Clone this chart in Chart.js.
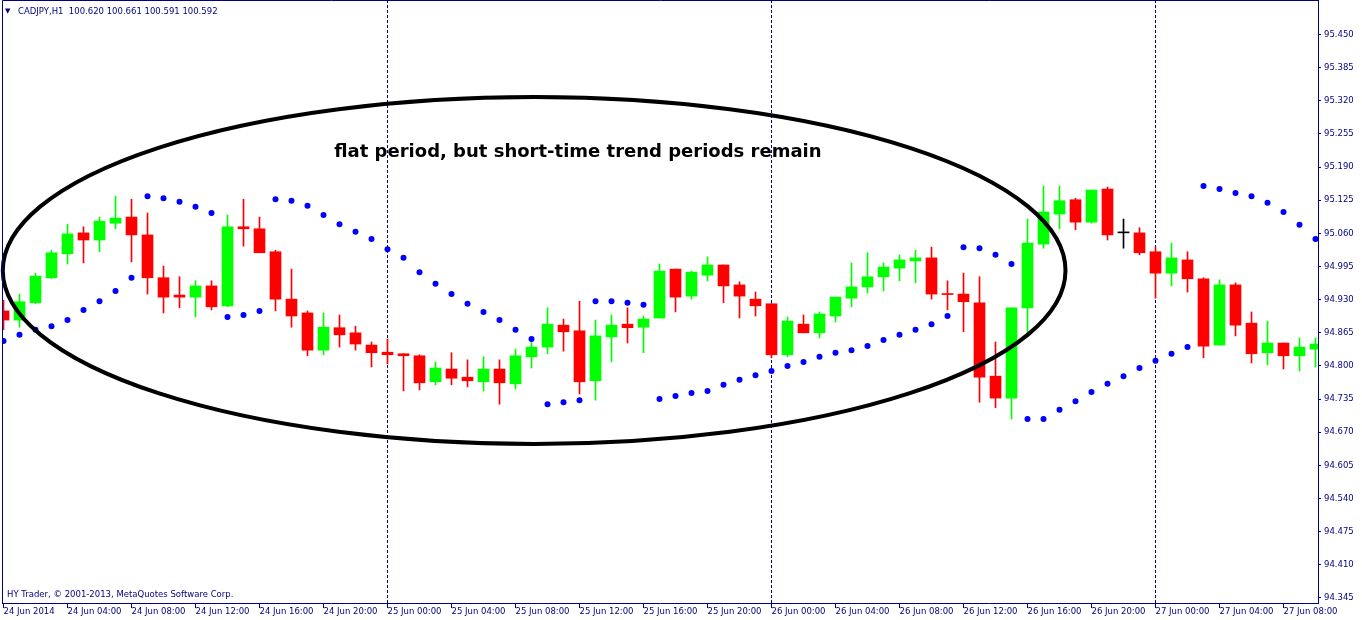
<!DOCTYPE html>
<html>
<head>
<meta charset="utf-8">
<title>CADJPY,H1</title>
<script src="https://cdn.jsdelivr.net/npm/chart.js@4.4.1/dist/chart.umd.min.js"></script>
<style>
  html, body { margin: 0; padding: 0; background: #fff; overflow: hidden; }
  canvas { display: block; }
</style>
</head>
<body>
<canvas id="chart" width="1362" height="620"></canvas>
<script>
// time axis: one label every 4 H1 bars, day separators every 24 bars
const timeLabels = ['24 Jun 2014', '24 Jun 04:00', '24 Jun 08:00', '24 Jun 12:00', '24 Jun 16:00', '24 Jun 20:00',
  '25 Jun 00:00', '25 Jun 04:00', '25 Jun 08:00', '25 Jun 12:00', '25 Jun 16:00', '25 Jun 20:00',
  '26 Jun 00:00', '26 Jun 04:00', '26 Jun 08:00', '26 Jun 12:00', '26 Jun 16:00', '26 Jun 20:00',
  '27 Jun 00:00', '27 Jun 04:00', '27 Jun 08:00'];
const labelStep = 4;
const daySeparators = [24, 48, 72];
const priceTicks = [94.345, 94.410, 94.475, 94.540, 94.605, 94.670, 94.735, 94.800, 94.865,
  94.930, 94.995, 95.060, 95.125, 95.190, 95.255, 95.320, 95.385, 95.450];

// OHLC, bar 0 = 24 Jun 00:00
const opens = [94.908, 94.890, 94.924, 94.973, 95.020, 95.061, 95.047, 95.080, 95.092, 95.057,
  94.973, 94.939, 94.935, 94.957, 94.918, 95.073, 95.069, 95.024, 94.931, 94.904,
  94.831, 94.875, 94.865, 94.841, 94.827, 94.824, 94.820, 94.769, 94.794, 94.778,
  94.769, 94.794, 94.765, 94.818, 94.837, 94.880, 94.869, 94.771, 94.857, 94.882,
  94.876, 94.894, 94.990, 94.937, 94.978, 94.998, 94.959, 94.931, 94.922, 94.822,
  94.882, 94.865, 94.898, 94.933, 94.955, 94.975, 94.992, 95.006, 95.012, 94.942,
  94.941, 94.924, 94.780, 94.737, 94.914, 95.039, 95.098, 95.126, 95.082, 95.147,
  95.061, 95.061, 95.024, 94.982, 95.008, 94.971, 94.841, 94.959, 94.884, 94.826,
  94.845, 94.820, 94.833];
const highs = [94.929, 94.941, 94.982, 95.027, 95.078, 95.073, 95.092, 95.133, 95.127, 95.100,
  94.996, 94.975, 94.967, 94.967, 95.096, 95.127, 95.092, 95.027, 94.990, 94.908,
  94.904, 94.900, 94.878, 94.847, 94.853, 94.824, 94.822, 94.808, 94.826, 94.812,
  94.818, 94.812, 94.833, 94.847, 94.914, 94.892, 94.927, 94.890, 94.900, 94.914,
  94.898, 95.000, 94.990, 94.986, 95.014, 94.998, 94.965, 94.945, 94.922, 94.896,
  94.900, 94.906, 94.935, 95.002, 95.022, 95.002, 95.018, 95.027, 95.033, 94.967,
  94.982, 94.975, 94.847, 94.914, 95.088, 95.153, 95.153, 95.129, 95.145, 95.151,
  95.088, 95.071, 95.033, 95.041, 95.024, 94.973, 94.969, 94.963, 94.906, 94.888,
  94.845, 94.855, 94.855];
const lows = [94.871, 94.876, 94.922, 94.971, 95.000, 95.002, 95.024, 95.069, 95.004, 94.941,
  94.904, 94.914, 94.896, 94.910, 94.916, 95.035, 95.022, 94.908, 94.876, 94.820,
  94.822, 94.837, 94.831, 94.798, 94.804, 94.751, 94.753, 94.763, 94.763, 94.759,
  94.751, 94.725, 94.755, 94.796, 94.824, 94.829, 94.745, 94.733, 94.808, 94.845,
  94.826, 94.894, 94.906, 94.931, 94.967, 94.924, 94.894, 94.898, 94.816, 94.818,
  94.865, 94.855, 94.886, 94.916, 94.943, 94.947, 94.967, 94.963, 94.931, 94.910,
  94.867, 94.729, 94.718, 94.696, 94.865, 95.031, 95.069, 95.067, 95.080, 95.047,
  95.031, 95.018, 94.933, 94.957, 94.945, 94.816, 94.841, 94.859, 94.806, 94.802,
  94.794, 94.790, 94.798];
const closes = [94.890, 94.926, 94.976, 95.022, 95.059, 95.047, 95.084, 95.090, 95.057, 94.973,
  94.935, 94.935, 94.957, 94.916, 95.073, 95.069, 95.022, 94.931, 94.898, 94.831,
  94.876, 94.861, 94.843, 94.826, 94.822, 94.820, 94.767, 94.796, 94.776, 94.771,
  94.794, 94.767, 94.820, 94.837, 94.882, 94.867, 94.769, 94.859, 94.880, 94.875,
  94.892, 94.986, 94.935, 94.984, 94.998, 94.957, 94.937, 94.918, 94.822, 94.888,
  94.865, 94.902, 94.935, 94.955, 94.975, 94.994, 95.008, 95.012, 94.941, 94.940,
  94.926, 94.778, 94.737, 94.914, 95.041, 95.102, 95.124, 95.082, 95.145, 95.057,
  95.061, 95.022, 94.982, 95.012, 94.971, 94.839, 94.959, 94.880, 94.824, 94.845,
  94.820, 94.837, 94.843];

// Parabolic SAR dots
const sar = [94.849, 94.861, 94.871, 94.878, 94.890, 94.910, 94.927, 94.947, 94.973, 95.133,
  95.129, 95.122, 95.112, 95.100, 94.896, 94.900, 94.908, 95.127, 95.124, 95.114,
  95.096, 95.078, 95.063, 95.049, 95.029, 95.012, 94.984, 94.961, 94.941, 94.922,
  94.906, 94.890, 94.871, 94.853, 94.725, 94.729, 94.733, 94.927, 94.927, 94.924,
  94.920, 94.735, 94.741, 94.747, 94.751, 94.763, 94.773, 94.782, 94.790, 94.800,
  94.808, 94.818, 94.826, 94.831, 94.839, 94.851, 94.861, 94.871, 94.882, 94.898,
  95.033, 95.031, 95.018, 95.000, 94.696, 94.696, 94.714, 94.731, 94.749, 94.765,
  94.780, 94.796, 94.810, 94.824, 94.837, 95.153, 95.147, 95.139, 95.133, 95.120,
  95.102, 95.077, 95.049];

// hand drawn annotation, in bar index / price units
const noteText = 'flat period, but short-time trend periods remain';
const notePos = { x: 35.9, y: 95.2196 };
const ellipseBox = { x0: -0.044, x1: 66.375, y0: 94.647, y1: 95.3275 };

const NAVY = '#000080';
const BULL = '#00ff00';
const BEAR = '#ff0000';
const DOJI = '#000000';
const SAR_BLUE = '#0000ff';
const FONT = '"DejaVu Sans", sans-serif';

function candleColor(i) {
  if (closes[i] > opens[i]) return BULL;
  if (closes[i] < opens[i]) return BEAR;
  return DOJI;
}

Chart.defaults.font.family = FONT;
Chart.defaults.font.size = 8.5;

const overlay = {
  id: 'overlay',
  afterDatasetsDraw(chart) {
    const { ctx, scales: { x, y } } = chart;
    const left = x.getPixelForValue(ellipseBox.x0), right = x.getPixelForValue(ellipseBox.x1);
    const top = y.getPixelForValue(ellipseBox.y1), bottom = y.getPixelForValue(ellipseBox.y0);
    ctx.save();
    ctx.beginPath();
    ctx.ellipse((left + right) / 2, (top + bottom) / 2, (right - left) / 2, (bottom - top) / 2, 0, 0, Math.PI * 2);
    ctx.lineWidth = 4;
    ctx.strokeStyle = '#000';
    ctx.stroke();

    ctx.font = 'bold 18px ' + FONT;
    ctx.fillStyle = '#000';
    ctx.textAlign = 'center';
    ctx.textBaseline = 'middle';
    ctx.fillText(noteText, x.getPixelForValue(notePos.x), y.getPixelForValue(notePos.y));
    ctx.restore();
  },
  afterDraw(chart) {
    const { ctx, chartArea: a } = chart;
    ctx.save();
    // window frame (left + top), the scales draw the other two sides
    ctx.strokeStyle = NAVY;
    ctx.lineWidth = 1;
    ctx.beginPath();
    ctx.moveTo(a.left + 0.5, a.bottom);
    ctx.lineTo(a.left + 0.5, a.top + 0.5);
    ctx.lineTo(a.right, a.top + 0.5);
    ctx.stroke();

    ctx.fillStyle = NAVY;
    ctx.textAlign = 'left';
    ctx.textBaseline = 'alphabetic';
    ctx.font = '7px ' + FONT;
    ctx.fillText('\u25BC', 5, 13);
    ctx.font = '8.5px ' + FONT;
    ctx.fillText('CADJPY,H1  100.620 100.661 100.591 100.592', 18, 14);
    ctx.fillText('HY Trader, \u00A9 2001-2013, MetaQuotes Software Corp.', 7, 597);
    ctx.restore();
  }
};

new Chart(document.getElementById('chart'), {
  type: 'bar',
  data: {
    datasets: [
      {
        type: 'scatter',
        label: 'Parabolic SAR',
        data: sar.map((v, i) => ({ x: i, y: v })),
        pointRadius: 3,
        pointHoverRadius: 3,
        pointBackgroundColor: SAR_BLUE,
        pointBorderWidth: 0,
        order: 0
      },
      {
        label: 'body',
        data: opens.map((o, i) => ({ x: i, y: [o, closes[i]] })),
        backgroundColor: c => candleColor(c.dataIndex),
        barThickness: 11,
        maxBarThickness: 11,
        minBarLength: 1,
        grouped: false,
        borderWidth: 0,
        order: 1
      },
      {
        label: 'wick',
        data: lows.map((l, i) => ({ x: i, y: [l, highs[i]] })),
        backgroundColor: c => candleColor(c.dataIndex),
        barThickness: 1,
        maxBarThickness: 1,
        grouped: false,
        borderWidth: 0,
        order: 2
      }
    ]
  },
  options: {
    responsive: false,
    animation: false,
    devicePixelRatio: 1,
    layout: { autoPadding: false, padding: { left: 2, top: 0, right: 0, bottom: 0 } },
    plugins: { legend: { display: false }, tooltip: { enabled: false } },
    scales: {
      x: {
        type: 'linear',
        min: -0.09375,
        max: 82.15625,
        bounds: 'data',
        offset: false,
        grid: {
          offset: false,
          color: c => (c.tick && daySeparators.includes(c.tick.value)) ? NAVY : 'rgba(0,0,0,0)',
          lineWidth: 1,
          tickLength: 5,
          tickColor: NAVY,
          tickWidth: 1
        },
        border: { color: NAVY, width: 1, dash: [3, 2] },
        afterBuildTicks: s => { s.ticks = timeLabels.map((_, k) => ({ value: k * labelStep })); },
        afterFit: s => { s.height = 17; s.paddingLeft = 0; s.paddingRight = 0; },
        ticks: {
          autoSkip: false,
          maxRotation: 0,
          minRotation: 0,
          align: 'start',
          padding: 0,
          color: NAVY,
          font: { size: 8.5, lineHeight: 1 },
          callback: (v, i) => timeLabels[i]
        }
      },
      y: {
        position: 'right',
        min: 94.33519,
        max: 95.51766,
        bounds: 'data',
        grid: { drawOnChartArea: false, tickLength: 3, tickColor: NAVY },
        border: { color: NAVY, width: 1 },
        afterBuildTicks: s => { s.ticks = priceTicks.map(v => ({ value: v })); },
        afterFit: s => { s.width = 44; s.paddingTop = 0; s.paddingBottom = 0; },
        ticks: { color: NAVY, padding: 3, font: { size: 8.5 }, callback: v => v.toFixed(3) }
      }
    }
  },
  plugins: [overlay]
});
</script>
</body>
</html>
